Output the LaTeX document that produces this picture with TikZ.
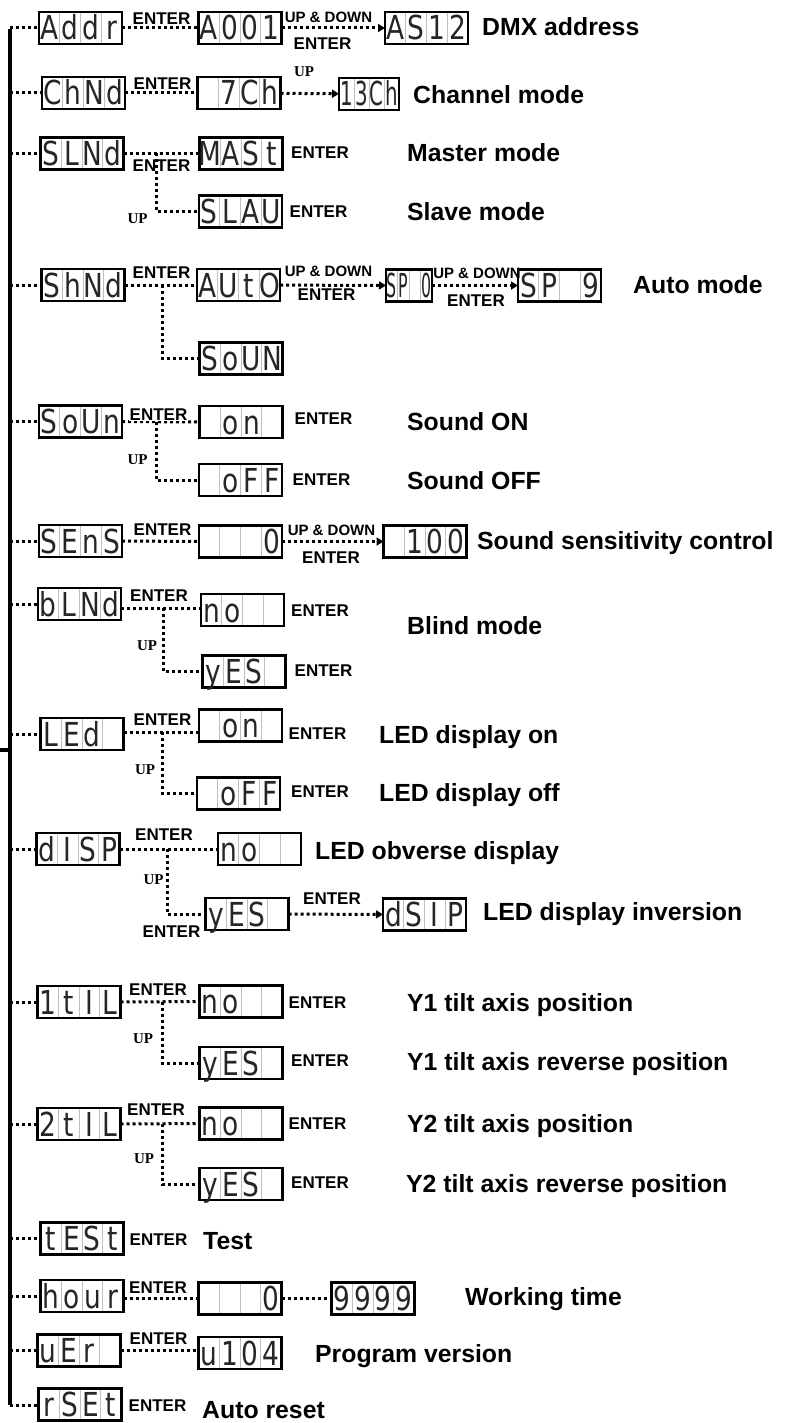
\documentclass[tikz,border=0pt]{standalone}
\usepackage{fontspec}
\usepackage{graphicx}
\setmainfont{Liberation Sans}
\newfontfamily\segfont[FakeStretch=0.8]{DejaVu Sans}
\newfontfamily\timesfont{Liberation Serif}
\usetikzlibrary{calc,arrows.meta}
\newcommand\sgx[6]{\rule{0pt}{24pt}\smash{\makebox[#1]{\scalebox{#2}[1]{#3}}\makebox[#1]{\scalebox{#2}[1]{#4}}\makebox[#1]{\scalebox{#2}[1]{#5}}\makebox[#1]{\scalebox{#2}[1]{#6}}}}
\newcommand\sg[4]{\sgx{20.75pt}{1}{#1}{#2}{#3}{#4}}
\tikzset{
  cellline/.style={draw=black!25, line width=0.8pt},
  segbox/.style={draw=black, line width=2.4pt, minimum width=#1, minimum height=32pt,
    inner sep=0pt, outer sep=0pt, text=black!85, font=\segfont\fontsize{33}{33}\selectfont,
    path picture={
      \foreach \f in {0.25,0.5,0.75}
        \draw[cellline] ($(path picture bounding box.south west)!\f!(path picture bounding box.south east)$)
          -- ($(path picture bounding box.north west)!\f!(path picture bounding box.north east)$);
    }},
  segbox/.default=83pt,
  dotline/.style={line width=3pt, dash pattern=on 3pt off 3pt},
  dotarrow/.style={dotline, -{Triangle[length=7pt,width=8pt]}},
  mainline/.style={line width=3.2pt},
  enter/.style={font=\bfseries\fontsize{17}{17}\selectfont, inner sep=0.5pt},
  updown/.style={font=\bfseries\fontsize{15}{15}\selectfont, inner sep=0pt},
  uplbl/.style={font=\timesfont\bfseries\fontsize{15}{15}\selectfont, inner sep=0pt},
  desc/.style={font=\bfseries\fontsize{24.8}{26}\selectfont, anchor=base west, inner sep=0pt},
}
\begin{document}
\begin{tikzpicture}[x=1pt,y=-1pt]
\fill[white] (0,0) rectangle (785,1423);
\useasboundingbox (0,0) rectangle (785,1423);

% main vertical line
\coordinate (top) at (10,29);
\coordinate (bot) at (10,1405);
\coordinate (stubL) at (0,750);
\draw[mainline] (top) -- (bot);
\draw[mainline] (stubL) -- (stubL -| top);

% ---------- Row 1: Addr
\node[segbox] (addr) at (80.5,28) {\sg{A}{d}{d}{r}};
\node[segbox] (a001) at (240,28) {\sg{A}{0}{0}{1}};
\node[segbox] (as12) at (426.5,28) {\sg{A}{S}{1}{2}};
\draw[dotline] (addr.west -| top) -- (addr.west);
\draw[dotline] (addr) -- (a001);
\draw[dotarrow] (a001) -- (as12);
\node[enter] (e1) at (161.5,18.5) {ENTER};
\node[updown] (ud1) at (328.5,17.5) {UP \& DOWN};
\node[enter] (e1b) at (322.5,43.5) {ENTER};
\node[desc] (d1) at (482,35.8) {DMX address};

% ---------- Row 2: ChNd
\node[segbox] (chnd) at (83.5,93) {\sg{C}{h}{N}{d}};
\node[segbox] (ch7) at (239,93) {\sg{}{7}{C}{h}};
\node[segbox=60pt] (ch13) at (369,94) {\sgx{15pt}{0.75}{1}{3}{C}{h}};
\draw[dotline] (chnd.west -| top) -- (chnd.west);
\draw[dotline] (chnd) -- (ch7);
\draw[dotarrow] (ch7) -- (ch13);
\node[enter] (e2) at (162.5,83.5) {ENTER};
\node[uplbl] (u2) at (304,72) {UP};
\node[desc] (d2) at (413,103.8) {Channel mode};

% ---------- Row 3: SLNd
\node[segbox] (slnd) at (82,153.5) {\sg{S}{L}{N}{d}};
\node[segbox] (mast) at (241,153.5) {\sg{M}{A}{S}{t}};
\node[segbox] (slau) at (240.5,211.5) {\sg{S}{L}{A}{U}};
\draw[dotline] (slnd.west -| top) -- (slnd.west);
\draw[dotline] (slnd) -- (mast);
\coordinate (br3) at (156,153.5);
\draw[dotline] (br3) |- (slau.west);
\node[enter] (e3) at (161.5,165.5) {ENTER};
\node[enter] (e3b) at (320,152.5) {ENTER};
\node[uplbl] (u3) at (137.5,219) {UP};
\node[enter] (e3c) at (318.5,212) {ENTER};
\node[desc] (d3) at (407,161.8) {Master mode};
\node[desc] (d3b) at (407,220.8) {Slave mode};

% ---------- Row 4: ShNd
\node[segbox] (shnd) at (83,285) {\sg{S}{h}{N}{d}};
\node[segbox] (auto) at (238.5,285) {\sg{A}{U}{t}{O}};
\node[segbox=46pt] (sp0) at (409,285.5) {\sgx{11.5pt}{0.6}{S}{P}{}{0}};
\node[updown] (ud4b) at (477,273.5) {UP \& DOWN};
\node[segbox] (sp9) at (559.5,285.5) {\sg{S}{P}{}{9}};
\node[segbox] (soun2) at (241,358.5) {\sg{S}{o}{U}{N}};
\draw[dotline] (shnd.west -| top) -- (shnd.west);
\draw[dotline] (shnd) -- (auto);
\draw[dotarrow] (auto) -- (sp0);
\draw[dotarrow] (sp0) -- (sp9);
\coordinate (br4) at (162,285);
\draw[dotline] (br4) |- (soun2.west);
\node[enter] (e4) at (161.5,272.5) {ENTER};
\node[updown] (ud4) at (328.5,271) {UP \& DOWN};
\node[enter] (e4b) at (326.5,295) {ENTER};
\node[enter] (e4c) at (476,300.5) {ENTER};
\node[desc] (d4) at (633,293.8) {Auto mode};

% ---------- Row 5: SoUn
\node[segbox] (soun) at (80.5,421.5) {\sg{S}{o}{U}{n}};
\node[segbox] (son) at (241,422) {\sg{}{o}{n}{}};
\node[segbox] (soff) at (240.5,480) {\sg{}{o}{F}{F}};
\draw[dotline] (soun.west -| top) -- (soun.west);
\draw[dotline] (soun) -- (son);
\coordinate (br5) at (156,422);
\draw[dotline] (br5) |- (soff.west);
\node[enter, fill=white] (e5) at (158.5,414.5) {ENTER};
\node[uplbl] (u5) at (137.5,460) {UP};
\node[enter] (e5b) at (323.5,419) {ENTER};
\node[enter] (e5c) at (321.5,480) {ENTER};
\node[desc] (d5) at (407,430.8) {Sound ON};
\node[desc] (d5b) at (407,489.8) {Sound OFF};

% ---------- Row 6: SEnS
\node[segbox] (sens) at (80.5,541) {\sg{S}{E}{n}{S}};
\node[segbox] (sens0) at (240.5,541.5) {\sg{}{}{}{0}};
\node[segbox] (sens100) at (425,541.5) {\sg{}{1}{0}{0}};
\draw[dotline] (sens.west -| top) -- (sens.west);
\draw[dotline] (sens) -- (sens0);
\draw[dotarrow] (sens0) -- (sens100);
\node[enter] (e6) at (162.5,529.5) {ENTER};
\node[updown] (ud6) at (331.5,530) {UP \& DOWN};
\node[enter] (e6b) at (331,557.5) {ENTER};
\node[desc] (d6) at (477,549.8) {Sound sensitivity control};

% ---------- Row 7: bLNd
\coordinate (l7) at (0,608);
\node[segbox] (blnd) at (79.5,604) {\sg{b}{L}{N}{d}};
\node[segbox] (bno) at (242.5,610) {\sg{n}{o}{}{}};
\node[segbox] (byes) at (244,671.5) {\sg{y}{E}{S}{}};
\draw[dotline] (blnd.west -| top) -- (blnd.west);
\draw[dotline] (blnd.east |- l7) -- (bno.west |- l7);
\coordinate (br7) at (163,608);
\draw[dotline] (br7) |- (byes.west);
\node[enter] (e7) at (159,595.5) {ENTER};
\node[uplbl] (u7) at (147,646) {UP};
\node[enter] (e7b) at (320,611) {ENTER};
\node[enter] (e7c) at (323.5,671) {ENTER};
\node[desc] (d7) at (407,634.8) {Blind mode};

% ---------- Row 8: LEd
\coordinate (l8) at (0,732);
\node[segbox] (led) at (82,734) {\sg{L}{E}{d}{}};
\node[segbox] (ledon) at (240.5,725.5) {\sg{}{o}{n}{}};
\node[segbox] (ledoff) at (238.5,793.5) {\sg{}{o}{F}{F}};
\draw[dotline] (led.west -| top) -- (led.west);
\draw[dotline] (led.east |- l8) -- (ledon.west |- l8);
\coordinate (br8) at (162,732);
\draw[dotline] (br8) |- (ledoff.west);
\node[enter] (e8) at (162.5,719.5) {ENTER};
\node[uplbl] (u8) at (145,770) {UP};
\node[enter] (e8b) at (317.5,734) {ENTER};
\node[enter] (e8c) at (320,792) {ENTER};
\node[desc] (d8) at (379,743.8) {LED display on};
\node[desc] (d8b) at (379,801.8) {LED display off};

% ---------- Row 9: dISP
\node[segbox] (disp) at (78,849) {\sg{d}{I}{S}{P}};
\node[segbox] (dno) at (259.5,849) {\sg{n}{o}{}{}};
\node[segbox] (dyes) at (247,914) {\sg{y}{E}{S}{}};
\node[segbox] (dsip) at (424.5,914.5) {\sg{d}{S}{I}{P}};
\draw[dotline] (disp.west -| top) -- (disp.west);
\draw[dotline] (disp) -- (dno);
\coordinate (br9) at (167,849);
\draw[dotline] (br9) |- (dyes.west);
\draw[dotarrow] (dyes) -- (dsip);
\node[enter] (e9) at (164,834.5) {ENTER};
\node[uplbl] (u9) at (153.5,880) {UP};
\node[enter] (e9b) at (171.5,931.5) {ENTER};
\node[enter] (e9c) at (332,898.5) {ENTER};
\node[desc] (d9) at (315,859.8) {LED obverse display};
\node[desc] (d9b) at (483,920.8) {LED display inversion};

% ---------- Row 10: 1tIL
\node[segbox] (ta) at (79,1002) {\sg{1}{t}{I}{L}};
\node[segbox] (tano) at (241,1001.5) {\sg{n}{o}{}{}};
\node[segbox] (tayes) at (241,1063) {\sg{y}{E}{S}{}};
\draw[dotline] (ta.west -| top) -- (ta.west);
\draw[dotline] (ta) -- (tano);
\coordinate (br10) at (162,1001.5);
\draw[dotline] (br10) |- (tayes.west);
\node[enter] (e10) at (158,990) {ENTER};
\node[uplbl] (u10) at (143,1039) {UP};
\node[enter] (e10b) at (317.5,1003) {ENTER};
\node[enter] (e10c) at (320,1061) {ENTER};
\node[desc] (d10) at (407,1011.8) {Y1 tilt axis position};
\node[desc] (d10b) at (407,1070.8) {Y1 tilt axis reverse position};

% ---------- Row 11: 2tIL
\node[segbox] (tb) at (79,1124) {\sg{2}{t}{I}{L}};
\node[segbox] (tbno) at (241,1123.5) {\sg{n}{o}{}{}};
\node[segbox] (tbyes) at (241,1184) {\sg{y}{E}{S}{}};
\draw[dotline] (tb.west -| top) -- (tb.west);
\draw[dotline] (tb) -- (tbno);
\coordinate (br11) at (162,1123.5);
\draw[dotline] (br11) |- (tbyes.west);
\node[enter] (e11) at (156,1109.5) {ENTER};
\node[uplbl] (u11) at (144,1159) {UP};
\node[enter] (e11b) at (317.5,1124) {ENTER};
\node[enter] (e11c) at (320,1183) {ENTER};
\node[desc] (d11) at (407,1132.8) {Y2 tilt axis position};
\node[desc] (d11b) at (406,1192.8) {Y2 tilt axis reverse position};

% ---------- Row 12: tESt
\node[segbox] (test) at (82,1238.5) {\sg{t}{E}{S}{t}};
\draw[dotline] (test.west -| top) -- (test.west);
\node[enter] (e12) at (158.5,1240) {ENTER};
\node[desc] (d12) at (203,1249.8) {Test};

% ---------- Row 13: hour
\node[segbox] (hour) at (82,1296) {\sg{h}{o}{u}{r}};
\node[segbox] (hour0) at (240,1298.5) {\sg{}{}{}{0}};
\node[segbox] (h9999) at (373,1298.5) {\sg{9}{9}{9}{9}};
\draw[dotline] (hour.west -| top) -- (hour.west);
\draw[dotline] (hour.east |- hour0.west) -- (hour0.west);
\draw[dotline] (hour0) -- (h9999);
\node[enter] (e13) at (158,1287.5) {ENTER};
\node[desc] (d13) at (465,1305.8) {Working time};

% ---------- Row 14: uEr
\node[segbox] (uer) at (79,1350.5) {\sg{u}{E}{r}{}};
\node[segbox] (u104) at (240,1353) {\sg{u}{1}{0}{4}};
\draw[dotline] (uer.west -| top) -- (uer.west);
\draw[dotline] (uer.east) -- (uer.east -| u104.west);
\node[enter] (e14) at (158.5,1338.5) {ENTER};
\node[desc] (d14) at (315,1362.8) {Program version};

% ---------- Row 15: rSEt
\node[segbox] (rset) at (80,1404.5) {\sg{r}{S}{E}{t}};
\draw[dotline] (bot) -- (bot -| rset.west);
\node[enter] (e15) at (157.5,1406) {ENTER};
\node[desc] (d15) at (202,1418.5) {Auto reset};
\end{tikzpicture}
\end{document}
